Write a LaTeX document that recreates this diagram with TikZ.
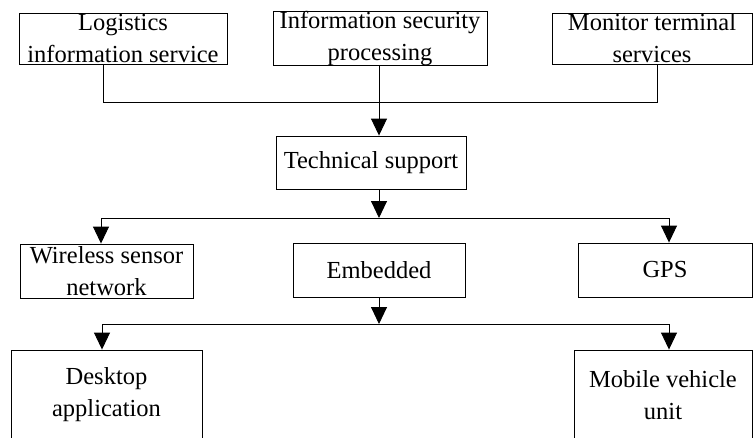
\documentclass[tikz,border=0pt]{standalone}
\usepackage{fontspec}
\setmainfont{Liberation Serif}
\usetikzlibrary{arrows.meta}
\begin{document}
\begin{tikzpicture}[x=1pt,y=-1pt,
  box/.style={draw,line width=0.9pt,inner sep=0pt,align=center,
    font=\fontsize{24.5}{32}\selectfont},
  link/.style={line width=0.9pt},
  flow/.style={line width=0.9pt,-{Triangle[length=17pt,width=16pt]}}]
\useasboundingbox (0,0) rectangle (753,437);
\clip (0,0) rectangle (753,437);

% top row: services
\node[box,minimum width=208,minimum height=51] (A) at (123,38.5) {Logistics\\information service};
\node[box,minimum width=214,minimum height=51] (B) at (380,38.5) {Information security\\processing};
\node[box,minimum width=200,minimum height=51] (C) at (652,38.5) {Monitor terminal\\services};

% technical support
\node[box,minimum width=190,minimum height=53] (T) at (371,162.5) {Technical support};

% middle row: technologies
\node[box,minimum width=173,minimum height=54] (W) at (106.5,271) {Wireless sensor\\network};
\node[box,minimum width=172,minimum height=54] (E) at (379,270) {Embedded};
\node[box,minimum width=174,minimum height=54] (G) at (665,270) {GPS};

% bottom row: applications
\node[box,minimum width=191,minimum height=90] (D) at (106.5,395) {Desktop\\application};
\node[box,minimum width=178,minimum height=90] (M) at (663,395) {Mobile vehicle\\unit};

% bus junctions
\coordinate (l1) at (103,102);
\coordinate (r1) at (657,102);
\coordinate (m2) at (379,218);
\coordinate (l2) at (101,218);
\coordinate (r2) at (669,218);
\coordinate (m3) at (379,324);
\coordinate (l3) at (102,324);
\coordinate (r3) at (669,324);

% services -> technical support
\draw[link] (A.south -| l1) -- (l1) -- (r1) -- (C.south -| r1);
\draw[flow] (B.south -| m2) -- (T.north -| m2);

% technical support -> technologies
\draw[flow] (T.south -| m2) -- (m2);
\draw[link] (l2) -- (r2);
\draw[flow] (l2) -- (W.north -| l2);
\draw[flow] (r2) -- (G.north -| r2);

% embedded -> applications
\draw[flow] (E.south -| m3) -- (m3);
\draw[link] (l3) -- (r3);
\draw[flow] (l3) -- (D.north -| l3);
\draw[flow] (r3) -- (M.north -| r3);
\end{tikzpicture}
\end{document}
